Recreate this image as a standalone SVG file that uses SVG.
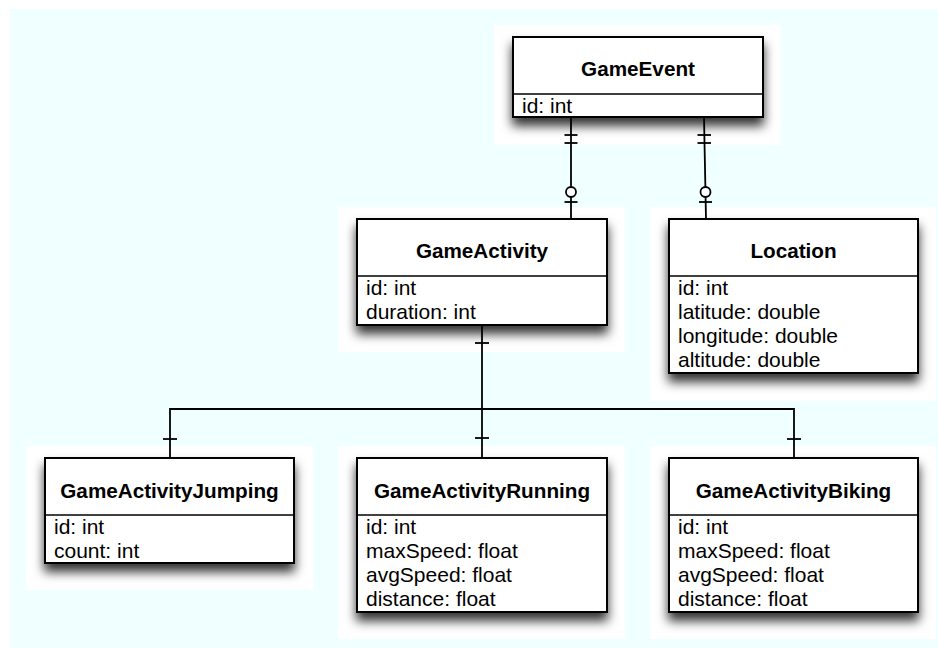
<svg xmlns="http://www.w3.org/2000/svg" width="938" height="648" viewBox="0 0 938 648">
  <defs>
    <filter id="shadow" x="-10%" y="-20%" width="120%" height="170%">
      <feDropShadow dx="0" dy="8" stdDeviation="5.5" flood-color="#000" flood-opacity="0.8"/>
    </filter>
  </defs>
  <style>
    .halo { fill: #ffffff; }
    .box { fill: #ffffff; stroke: #000; stroke-width: 2; }
    .div { stroke: #000; stroke-width: 1.6; }
    .title { font-family: "Liberation Sans", Arial, sans-serif; font-weight: bold; font-size: 20.7px; text-anchor: middle; fill: #000; }
    .attr { font-family: "Liberation Sans", Arial, sans-serif; font-size: 21px; fill: #000; }
    .conn line, .conn path { stroke: #000; stroke-width: 1.8; fill: none; }
    .conn circle { stroke: #000; stroke-width: 1.8; fill: #ffffff; }
  </style>

  <!-- canvas -->
  <rect x="10" y="9" width="928" height="639" fill="#f0ffff"/>

  <!-- white halos behind each table -->
  <rect class="halo" x="494" y="25" width="287" height="120"/>
  <rect class="halo" x="338" y="207" width="287" height="145"/>
  <rect class="halo" x="650" y="207" width="286" height="194"/>
  <rect class="halo" x="26" y="446" width="287" height="144"/>
  <rect class="halo" x="338" y="446" width="287" height="193"/>
  <rect class="halo" x="650" y="446" width="286" height="193"/>

  <!-- relationships -->
  <g id="connectors" class="conn">
    <!-- GameEvent -> GameActivity : one to zero-or-one -->
    <line x1="571" y1="117" x2="571" y2="219"/>
    <line x1="564.5" y1="135" x2="577.5" y2="135"/>
    <line x1="564.5" y1="143" x2="577.5" y2="143"/>
    <circle cx="571" cy="192" r="5"/>
    <line x1="564.5" y1="202" x2="577.5" y2="202"/>

    <!-- GameEvent -> Location : one to zero-or-one -->
    <line x1="704" y1="117" x2="706" y2="219"/>
    <line x1="697.5" y1="135" x2="711" y2="135"/>
    <line x1="697.5" y1="143" x2="711" y2="143"/>
    <circle cx="705.5" cy="192" r="5"/>
    <line x1="699" y1="202" x2="712" y2="202"/>

    <!-- GameActivity -> specialisations -->
    <line x1="482" y1="325" x2="482" y2="458"/>
    <line x1="475" y1="343" x2="489" y2="343"/>
    <path d="M170 458 V409 H794 V458"/>
    <line x1="163" y1="439" x2="177" y2="439"/>
    <line x1="475" y1="438" x2="489" y2="438"/>
    <line x1="787" y1="439" x2="801" y2="439"/>
  </g>

  <g id="GameEvent">
    <rect class="box" x="513" y="37" width="250" height="80" filter="url(#shadow)"/>
    <line class="div" x1="513" y1="94" x2="763" y2="94"/>
    <text class="title" x="638" y="76">GameEvent</text>
    <text class="attr" x="522" y="113">id: int</text>
  </g>

  <g id="GameActivity">
    <rect class="box" x="357" y="219" width="250" height="106" filter="url(#shadow)"/>
    <line class="div" x1="357" y1="276" x2="607" y2="276"/>
    <text class="title" x="482" y="258">GameActivity</text>
    <text class="attr" x="366" y="295">id: int</text>
    <text class="attr" x="366" y="319">duration: int</text>
  </g>

  <g id="Location">
    <rect class="box" x="669" y="219" width="249" height="154" filter="url(#shadow)"/>
    <line class="div" x1="669" y1="276" x2="918" y2="276"/>
    <text class="title" x="793.5" y="258">Location</text>
    <text class="attr" x="678" y="295">id: int</text>
    <text class="attr" x="678" y="319">latitude: double</text>
    <text class="attr" x="678" y="343">longitude: double</text>
    <text class="attr" x="678" y="367">altitude: double</text>
  </g>

  <g id="GameActivityJumping">
    <rect class="box" x="45" y="458" width="249" height="105" filter="url(#shadow)"/>
    <line class="div" x1="45" y1="515" x2="294" y2="515"/>
    <text class="title" x="169.5" y="498">GameActivityJumping</text>
    <text class="attr" x="54" y="534">id: int</text>
    <text class="attr" x="54" y="558">count: int</text>
  </g>

  <g id="GameActivityRunning">
    <rect class="box" x="357" y="458" width="250" height="154" filter="url(#shadow)"/>
    <line class="div" x1="357" y1="515" x2="607" y2="515"/>
    <text class="title" x="482" y="498">GameActivityRunning</text>
    <text class="attr" x="366" y="534">id: int</text>
    <text class="attr" x="366" y="558">maxSpeed: float</text>
    <text class="attr" x="366" y="582">avgSpeed: float</text>
    <text class="attr" x="366" y="606">distance: float</text>
  </g>

  <g id="GameActivityBiking">
    <rect class="box" x="669" y="458" width="249" height="154" filter="url(#shadow)"/>
    <line class="div" x1="669" y1="515" x2="918" y2="515"/>
    <text class="title" x="793.5" y="498">GameActivityBiking</text>
    <text class="attr" x="678" y="534">id: int</text>
    <text class="attr" x="678" y="558">maxSpeed: float</text>
    <text class="attr" x="678" y="582">avgSpeed: float</text>
    <text class="attr" x="678" y="606">distance: float</text>
  </g>
</svg>
